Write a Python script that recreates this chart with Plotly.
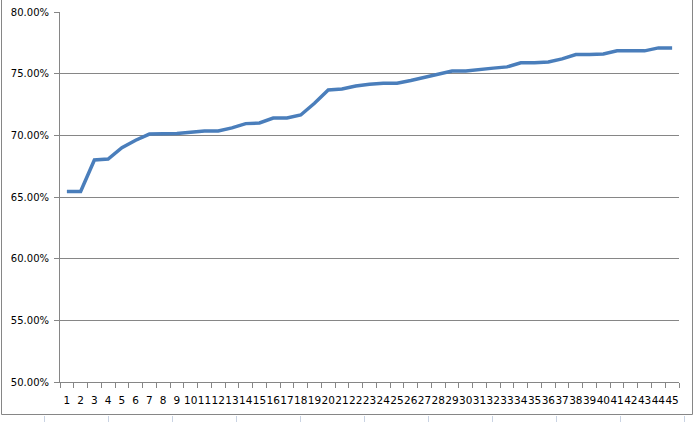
import plotly.graph_objects as go

categories = [str(i) for i in range(1, 46)]
values = [65.45, 65.45, 68.0, 68.08, 69.0, 69.6, 70.1, 70.1, 70.15, 70.25,
          70.35, 70.35, 70.6, 70.95, 71.0, 71.4, 71.4, 71.65, 72.6, 73.68,
          73.75, 74.0, 74.15, 74.22, 74.22, 74.45, 74.7, 74.9, 75.22, 75.22,
          75.3, 75.45, 75.55, 75.88, 75.88, 75.95, 76.2, 76.55, 76.55, 76.6,
          76.85, 76.85, 76.85, 77.09, 77.09]
y_ticks = [50, 55, 60, 65, 70, 75, 80]
y_tick_labels = ["50.00%", "55.00%", "60.00%", "65.00%", "70.00%", "75.00%", "80.00%"]

W, H = 694, 422
L, R, T, B = 60, 15, 12, 40
pw, ph = W - L - R, H - T - B

def px_x(x):
    return (x - L) / pw

def px_y(y):
    return (H - B - y) / ph

grid = "#868686"
fig = go.Figure()
fig.add_trace(go.Scatter(x=categories, y=values, mode="lines",
                         line=dict(color="#4a7ebb", width=3.5)))

shapes = []
# chart border (left, right, bottom)
shapes.append(dict(type="line", xref="paper", yref="paper", x0=px_x(1.5), x1=px_x(1.5),
                   y0=px_y(414.5), y1=px_y(-5), line=dict(color=grid, width=1)))
shapes.append(dict(type="line", xref="paper", yref="paper", x0=px_x(692.5), x1=px_x(692.5),
                   y0=px_y(414.5), y1=px_y(-5), line=dict(color=grid, width=1)))
shapes.append(dict(type="line", xref="paper", yref="paper", x0=px_x(1.5), x1=px_x(692.5),
                   y0=px_y(414.5), y1=px_y(414.5), line=dict(color=grid, width=1)))
# spreadsheet column lines below the chart
for cx in range(44, 700, 64):
    shapes.append(dict(type="line", xref="paper", yref="paper", x0=px_x(cx + 0.5), x1=px_x(cx + 0.5),
                       y0=px_y(416), y1=px_y(425), line=dict(color="#c9d3e3", width=1)))

fig.update_layout(
    width=W, height=H,
    margin=dict(l=L, r=R, t=T, b=B, autoexpand=False),
    paper_bgcolor="white", plot_bgcolor="white",
    showlegend=False,
    font=dict(family="DejaVu Sans", size=10, color="black"),
    shapes=shapes,
    xaxis=dict(type="category", range=[-0.5, 44.5], tickmode="array",
               tickvals=categories, ticktext=categories, tickangle=0,
               ticks="outside", tickson="boundaries", ticklen=5, tickcolor=grid,
               showline=True, linecolor=grid, linewidth=1, showgrid=False,
               tickfont=dict(size=10.5), ticklabelstandoff=8, zeroline=False,
               automargin=False),
    yaxis=dict(range=[50, 80], tickmode="array", tickvals=y_ticks, ticktext=y_tick_labels,
               ticks="outside", ticklen=5, tickcolor=grid, showline=True, linecolor=grid,
               linewidth=1, showgrid=True, gridcolor=grid, gridwidth=1, zeroline=False,
               ticklabelstandoff=3, tickfont=dict(size=10), automargin=False),
)
fig.write_html("out.html", config={"displayModeBar": False},
               post_script="document.body.style.margin='0';")
